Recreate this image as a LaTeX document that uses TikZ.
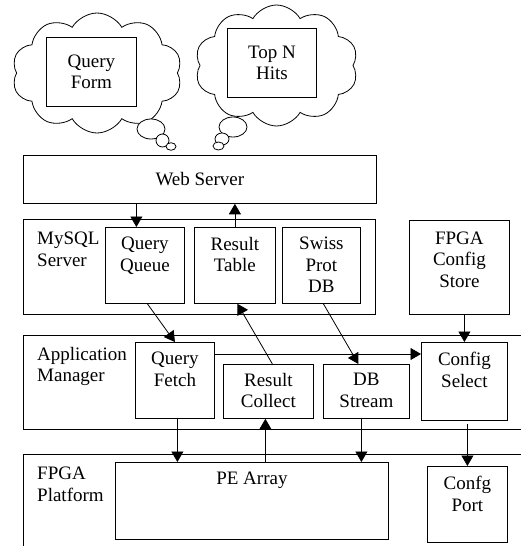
\documentclass[tikz,border=0pt]{standalone}
\usepackage{fontspec}
\setmainfont{Liberation Serif}
\usetikzlibrary{shapes.symbols,shapes.geometric,arrows.meta}
\begin{document}
\begin{tikzpicture}[x=1pt,y=-1pt,
  font=\fontsize{19}{21.5}\selectfont,
  box/.style={draw, line width=0.8pt, inner sep=0pt, align=center, anchor=north west},
  grp/.style={draw, line width=0.8pt, inner sep=0pt, anchor=north west},
  tl/.style={anchor=north, yshift=-10pt, inner sep=0pt, align=center},
  glbl/.style={anchor=north west, inner sep=0pt, align=left},
  arr/.style={line width=0.8pt, -{Triangle[length=10.5pt,width=12pt]}},
  cloudn/.style={cloud, draw, line width=0.8pt, cloud puffs=10, cloud puff arc=120, inner sep=0pt},
  bub/.style={ellipse, draw, fill=white, line width=0.8pt, inner sep=0pt}
]
\useasboundingbox (0,0) rectangle (521,546);

% clouds
\node[cloudn, minimum width=170pt, minimum height=120pt] (c1) at (97,73) {};
\node[cloudn, minimum width=163pt, minimum height=121pt] (c2) at (276.5,65.5) {};
\node[bub, minimum width=28pt, minimum height=20pt] (b1a) at (151,129) {};
\node[bub, minimum width=13pt, minimum height=13pt] (b1b) at (162.5,140.5) {};
\node[bub, minimum width=10pt, minimum height=7.5pt] (b1c) at (171,146.5) {};
\node[bub, minimum width=28pt, minimum height=20pt] (b2a) at (233,127) {};
\node[bub, minimum width=14pt, minimum height=12pt] (b2b) at (222,139) {};
\node[bub, minimum width=11pt, minimum height=8pt] (b2c) at (218.5,146) {};
\node[box, fill=white, minimum width=90pt, minimum height=69pt] (qform) at (46,37) {Query\\Form};
\node[box, fill=white, minimum width=89pt, minimum height=69pt] (topn) at (227,28) {Top N\\Hits};

% web server
\node[box, minimum width=353pt, minimum height=48pt] (ws) at (23,155) {Web Server};

% groups
\node[grp, minimum width=352pt, minimum height=95pt] (mysql) at (23,219) {};
\node[glbl] (mysqllbl) at ([xshift=14pt,yshift=-13pt]mysql.north west) {MySQL\\Server};
\node[grp, minimum width=520pt, minimum height=94pt] (app) at (23,335) {};
\node[glbl] (applbl) at ([xshift=14pt,yshift=-12pt]app.north west) {Application\\Manager};
\node[grp, minimum width=520pt, minimum height=120pt] (fpga) at (23,454) {};
\node[glbl] (fpgalbl) at ([xshift=14pt,yshift=-13pt]fpga.north west) {FPGA\\Platform};

% boxes
\node[box, minimum width=79pt, minimum height=76pt, label={[tl]90:Query\\Queue}] (qq) at (105,227) {};
\node[box, minimum width=81pt, minimum height=76pt, label={[tl]90:Result\\Table}] (rt) at (194,227) {};
\node[box, minimum width=78pt, minimum height=76pt, label={[tl]90:Swiss\\Prot\\DB}] (sp) at (282,227) {};
\node[box, minimum width=100pt, minimum height=94pt, label={[tl,yshift=-1.5pt]90:FPGA\\Config\\Store}] (fcs) at (409,220) {};
\node[box, minimum width=79pt, minimum height=76pt, label={[tl]90:Query\\Fetch}] (qf) at (135,342) {};
\node[box, minimum width=90pt, minimum height=54pt, label={[tl,yshift=1pt]90:Result\\Collect}] (rc) at (223,364) {};
\node[box, minimum width=86pt, minimum height=54pt, label={[tl,yshift=1pt]90:DB\\Stream}] (db) at (323,364) {};
\node[box, minimum width=86pt, minimum height=78pt, label={[tl]90:Config\\Select}] (cs) at (421,342) {};
\node[box, minimum width=273pt, minimum height=77pt, label={[tl]90:PE Array}] (pe) at (115,462) {};
\node[box, minimum width=80pt, minimum height=76pt, label={[tl]90:Confg\\Port}] (cp) at (427,466) {};

% connectors
\coordinate (qqin) at ([xshift=-8.5pt]qq.north);
\draw[arr] (qqin |- ws.south) -- (qqin);
\draw[arr] (rt.north) -- (rt.north |- ws.south);
\draw[arr] ([xshift=2.5pt]qq.south) -- (qf.north);
\draw[arr] ([xshift=4pt]rc.north) -- ([xshift=2.5pt]rt.south);
\draw[arr] ([xshift=2pt]sp.south) -- ([xshift=-8pt]db.north);
\draw[arr] (fcs.south -| cs.north) -- (cs.north);
\draw[arr] ([yshift=-12pt]qf.north east) -- ([yshift=-12pt]cs.north west);
\coordinate (qfout) at ([xshift=2.5pt]qf.south);
\draw[arr] (qfout) -- (qfout |- pe.north);
\coordinate (rcin) at ([xshift=-3pt]rc.south);
\draw[arr] (rcin |- pe.north) -- (rcin);
\coordinate (dbout) at ([xshift=-5pt]db.south);
\draw[arr] (dbout) -- (dbout |- pe.north);
\coordinate (csout) at ([yshift=-3pt]cs.south -| cp.north);
\draw[arr] (csout) -- (cp.north);
\end{tikzpicture}
\end{document}
